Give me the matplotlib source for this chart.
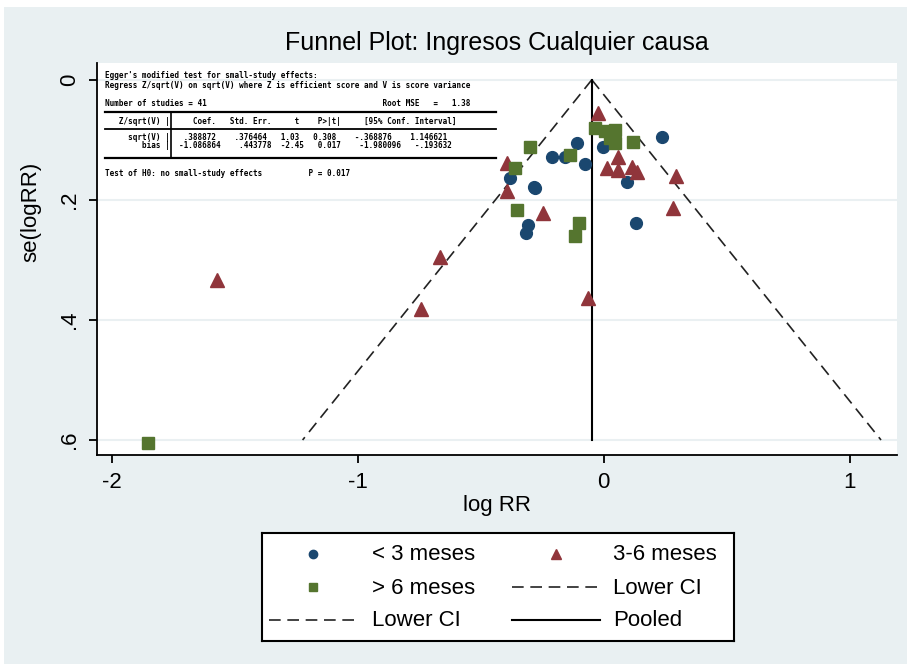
import matplotlib
matplotlib.use("Agg")
import matplotlib.pyplot as plt
from matplotlib.patches import Rectangle
import numpy as np

plt.rcParams['font.family'] = ['Liberation Sans', 'DejaVu Sans']

# data (log RR, se(logRR))
blue_x = [0.239, -0.001, -0.109, -0.157, -0.211, -0.075, -0.380, -0.285, -0.278, 0.094, -0.306, -0.315, 0.132]
blue_y = [0.095, 0.112, 0.106, 0.128, 0.128, 0.140, 0.164, 0.178, 0.180, 0.170, 0.242, 0.255, 0.238]

red_x = [-0.021, -0.391, -0.393, 0.060, 0.013, 0.060, 0.115, 0.135, 0.295, 0.284, -0.247, -0.667, -0.743, -1.572, -0.062]
red_y = [0.056, 0.139, 0.185, 0.129, 0.147, 0.150, 0.145, 0.153, 0.161, 0.213, 0.222, 0.295, 0.381, 0.334, 0.364]

green_x = [-0.035, 0.006, 0.047, 0.026, 0.047, 0.121, -0.136, -0.299, -0.360, -0.353, -0.102, -0.116, -1.852]
green_y = [0.081, 0.086, 0.083, 0.097, 0.106, 0.103, 0.125, 0.112, 0.147, 0.217, 0.239, 0.261, 0.605]

pooled = -0.048
se_max = 0.6

x_ticks = [-2, -1, 0, 1]
y_ticks = [0, 0.2, 0.4, 0.6]
y_labels = ['0', '.2', '.4', '.6']

title = "Funnel Plot: Ingresos Cualquier causa"

egger_lines = [
    "Egger's modified test for small-study effects:",
    "Regress Z/sqrt(V) on sqrt(V) where Z is efficient score and V is score variance",
    "Number of studies = 41                                      Root MSE   =   1.38",
    "   Z/sqrt(V) |     Coef.   Std. Err.     t    P>|t|     [95% Conf. Interval]",
    "     sqrt(V) |   .388872    .376464   1.03   0.308    -.368876    1.146621",
    "        bias |  -1.086864    .443778  -2.45   0.017    -1.980096   -.193632",
    "Test of H0: no small-study effects          P = 0.017",
]

navy = '#1a476f'
maroon = '#90353b'
forest = '#55752f'

W, H = 907, 664
fig = plt.figure(figsize=(W / 100, H / 100), dpi=100)
fig.patch.set_facecolor('white')
fig.patches.append(Rectangle((4 / W, 0), 1 - 4 / W, 1 - 7 / H, transform=fig.transFigure,
                             facecolor='#e9f0f2', edgecolor='none', zorder=-10))


def fx(px):
    return px / W


def fy(py):
    return 1 - py / H


ax = fig.add_axes([fx(97), fy(455), (897 - 97) / W, (455 - 63) / H])
ax.set_facecolor('white')
ax.set_xlim(-2.06, 1.193)
ax.set_ylim(0.625, -0.028)

for s in ['top', 'right']:
    ax.spines[s].set_visible(False)
for s in ['left', 'bottom']:
    ax.spines[s].set_linewidth(1.3)

ax.set_xticks(x_ticks)
ax.set_xticklabels([str(t) for t in x_ticks], fontsize=16)
ax.set_yticks(y_ticks)
ax.set_yticklabels(y_labels, fontsize=16, rotation=90, va='center')
ax.tick_params(length=6, width=1.3, pad=6)
ax.grid(axis='y', color='#eaf0f2', lw=1.5)
ax.set_axisbelow(True)

# funnel
se = np.array([0, se_max])
ax.plot(pooled - 1.96 * se, se, color='#222222', lw=1.2, dashes=(7, 4))
ax.plot(pooled + 1.96 * se, se, color='#222222', lw=1.2, dashes=(7, 4))
ax.plot([pooled, pooled], se, color='black', lw=1.5)

ax.plot(blue_x, blue_y, 'o', color=navy, ms=8.5, mec=navy, ls='none')
ax.plot(red_x, red_y, '^', color=maroon, ms=9.5, mec=maroon, ls='none')
ax.plot(green_x, green_y, 's', color=forest, ms=8.5, mec=forest, ls='none')

ax.set_xlabel('log RR', fontsize=16, labelpad=2)
ax.set_ylabel('se(logRR)', fontsize=16)
ax.yaxis.set_label_coords(-0.07, 0.62)

fig.text(fx(497), fy(43), title, fontsize=18, ha='center', va='center')

# Egger table pasted on the plot
line_y = [76, 85, 103, 121, 137, 146, 174]
for txt, py in zip(egger_lines, line_y):
    fig.text(fx(105), fy(py), txt, family='DejaVu Sans Mono', fontweight='bold',
             fontsize=5.5, va='center', ha='left')
for py, lw in [(112, 1.6), (129, 1.3), (158, 1.6)]:
    fig.add_artist(plt.Line2D([fx(105), fx(496)], [fy(py), fy(py)], color='black', lw=lw,
                              transform=fig.transFigure))
fig.add_artist(plt.Line2D([fx(171), fx(171)], [fy(112), fy(158)], color='black', lw=1.2,
                          transform=fig.transFigure))

# legend box
lg = fig.add_axes([fx(262), fy(641), (734 - 262) / W, (641 - 533) / H])
lg.set_xlim(262, 734)
lg.set_ylim(641, 533)
lg.set_xticks([])
lg.set_yticks([])
lg.set_facecolor('white')
for s in lg.spines.values():
    s.set_linewidth(1.5)

col_mid = [313, 556]
col_txt = [372, 613]
row_y = [554, 587, 620]
entries = [
    (0, 0, dict(marker='o', color=navy, ms=6), '< 3 meses'),
    (1, 0, dict(marker='^', color=maroon, ms=7), '3-6 meses'),
    (0, 1, dict(marker='s', color=forest, ms=6), '> 6 meses'),
    (1, 1, dict(color='#222222', lw=1.2, dashes=(7, 4)), 'Lower CI'),
    (0, 2, dict(color='#222222', lw=1.2, dashes=(7, 4)), 'Lower CI'),
    (1, 2, dict(color='black', lw=1.5), 'Pooled'),
]
for c, r, style, label in entries:
    if 'marker' in style:
        lg.plot([col_mid[c]], [row_y[r]], ls='none', **style)
    else:
        lg.plot([col_mid[c] - 44, col_mid[c] + 44], [row_y[r], row_y[r]], **style)
    lg.text(col_txt[c], row_y[r] + 1, label, fontsize=16, va='center', ha='left')

fig.savefig('out.png', dpi=100)
